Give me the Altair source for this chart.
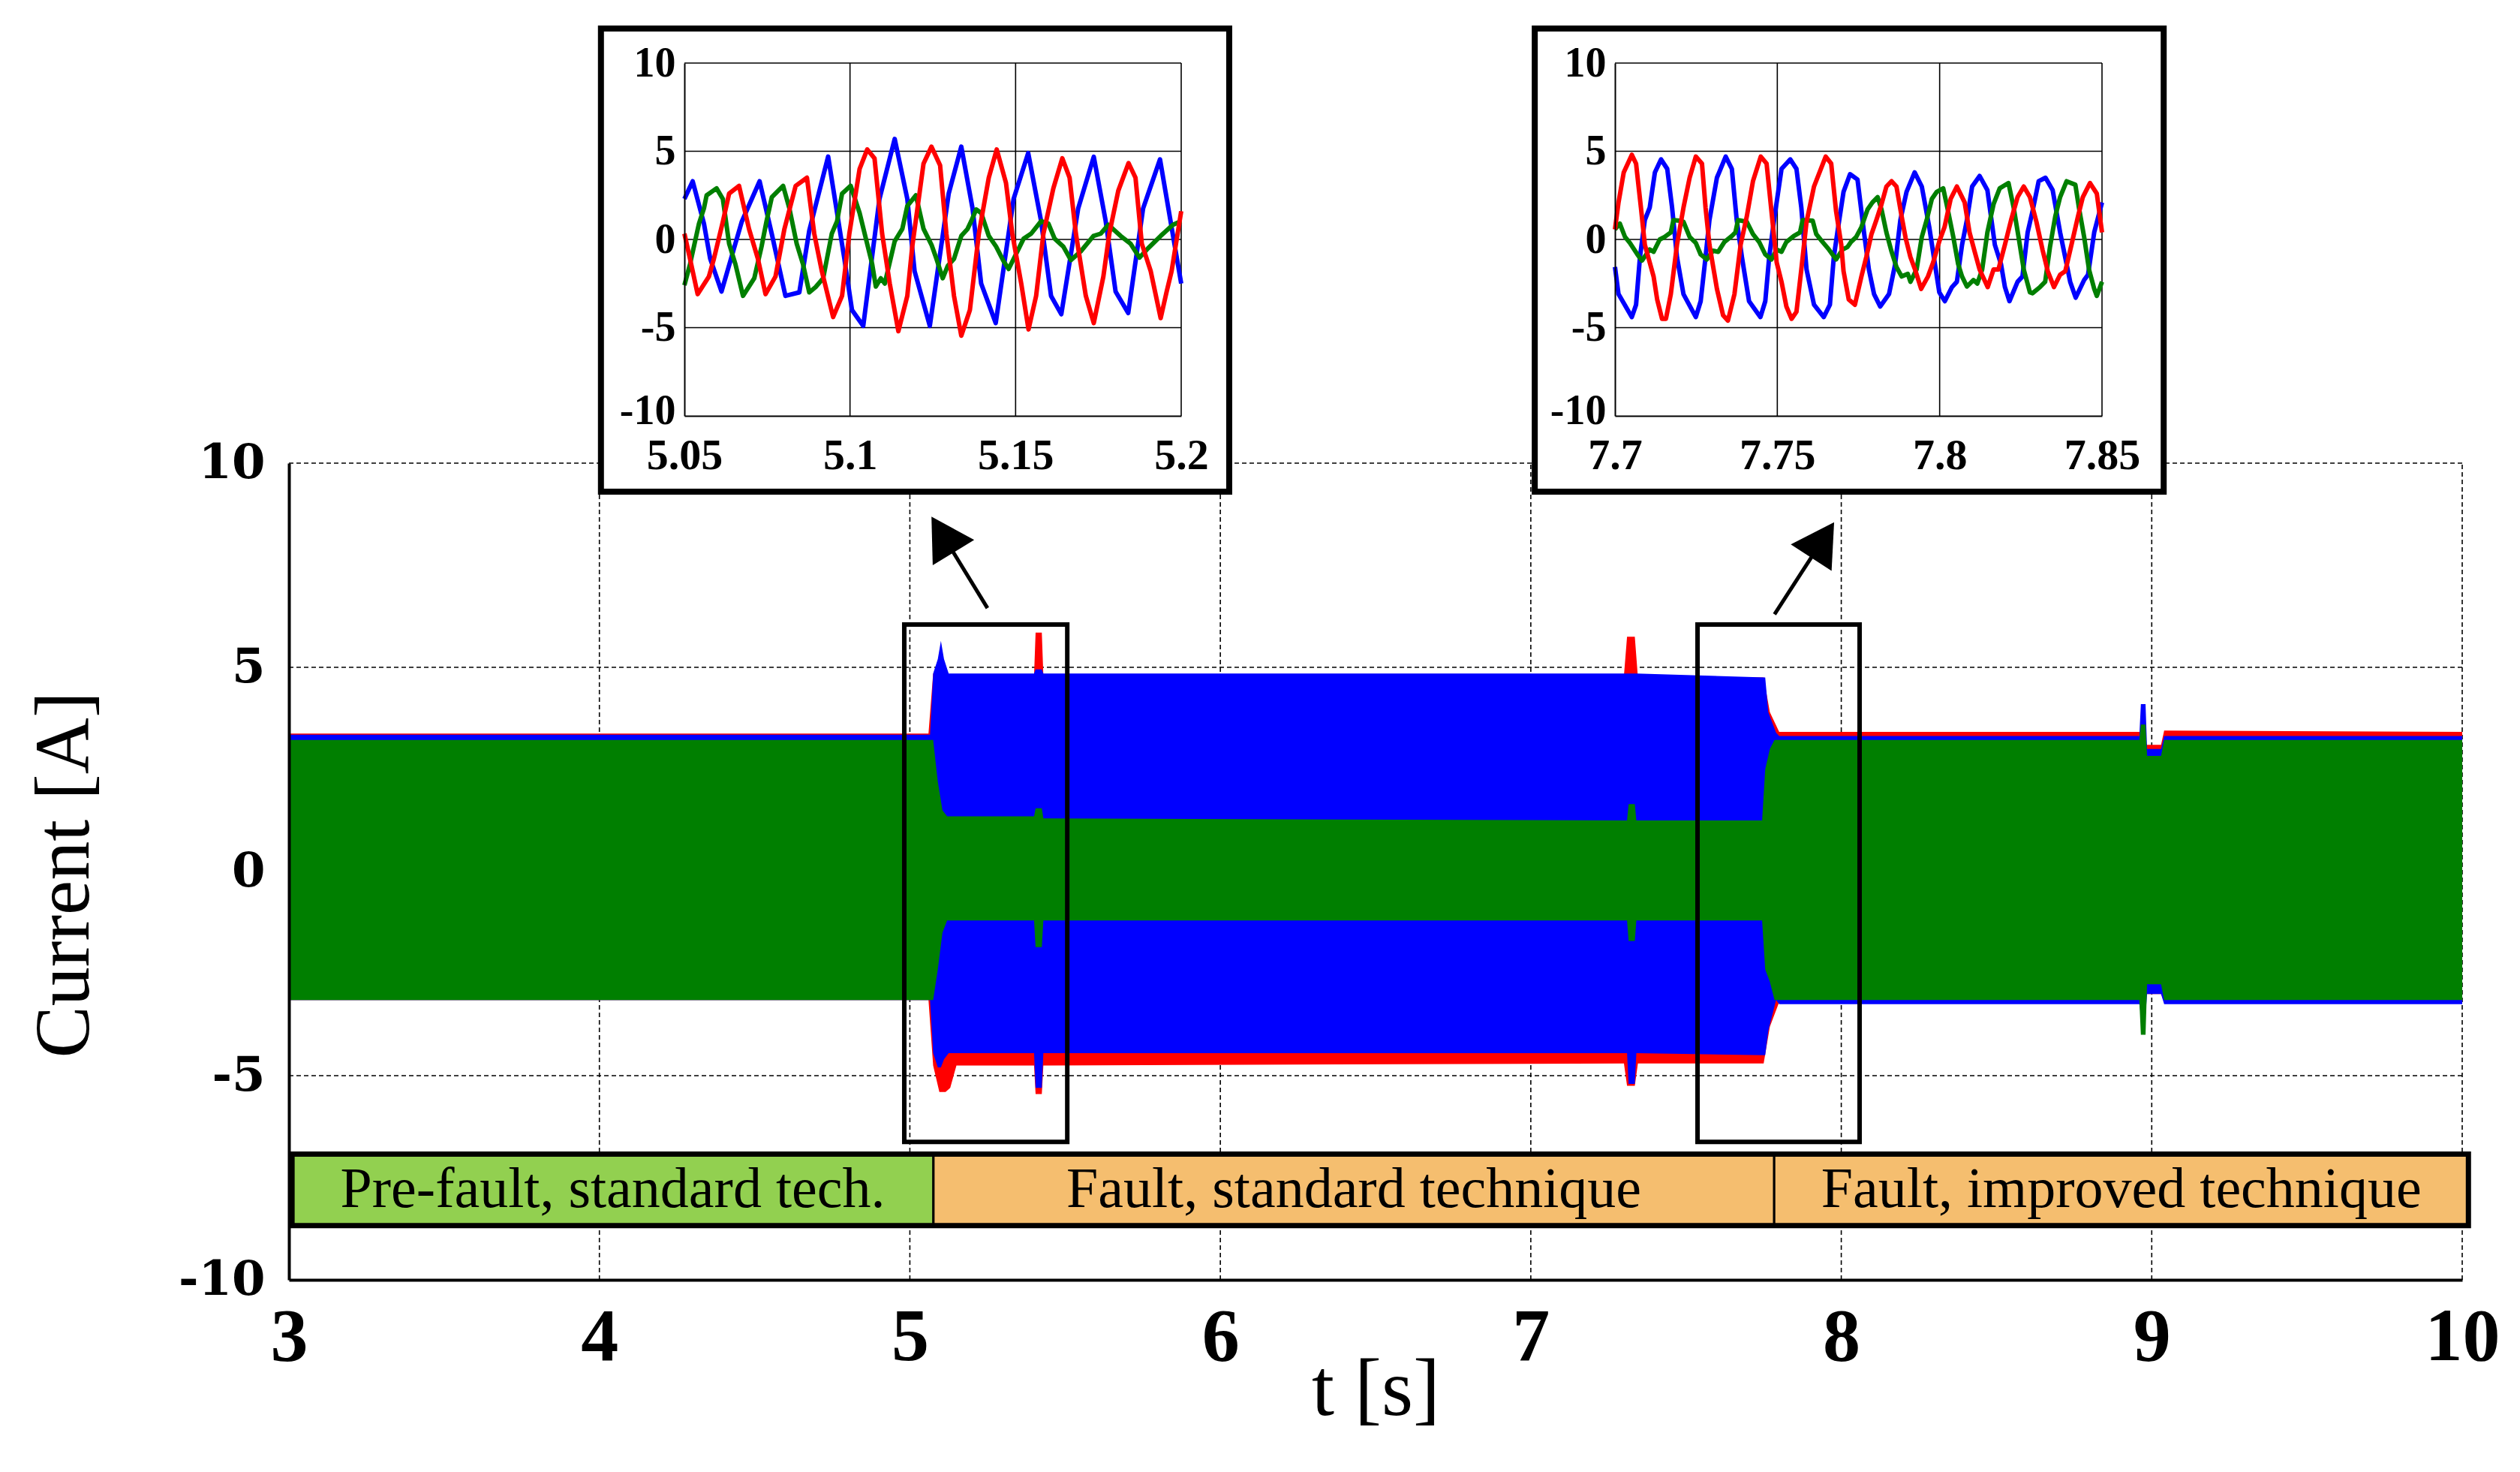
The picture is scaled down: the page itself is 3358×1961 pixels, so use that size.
import altair as alt
import pandas as pd

# ---------------- values ----------------
MAIN_T_TICKS = [3, 4, 5, 6, 7, 8, 9, 10]
MAIN_V_TICKS = [-10, -5, 0, 5, 10]
GRID_T = [4, 5, 6, 7, 8, 9, 10]
GRID_V = [-5, 0, 5, 10]

# envelopes of the three phase currents in the main plot (t, upper, lower)
RED_T = [3.00, 5.060, 5.075, 5.095, 5.115, 5.130, 5.150, 5.400, 5.405, 5.425, 5.430,
         7.300, 7.310, 7.335, 7.345, 7.750, 7.770, 7.800, 8.960, 8.985, 9.030, 9.040, 10.00]
RED_HI = [3.38, 3.38, 4.85, 4.85, 4.85, 4.80, 4.80, 4.80, 5.85, 5.85, 4.80,
          4.80, 5.75, 5.75, 4.75, 4.75, 3.90, 3.42, 3.42, 3.10, 3.10, 3.45, 3.42]
RED_LO = [-3.15, -3.15, -4.75, -5.40, -5.40, -5.30, -4.75, -4.75, -5.45, -5.45, -4.75,
          -4.70, -5.25, -5.25, -4.70, -4.70, -3.80, -3.20, -3.20, -3.00, -3.00, -3.20, -3.20]

BLUE_T = [3.00, 5.065, 5.075, 5.090, 5.100, 5.110, 5.125, 5.400, 5.405, 5.425, 5.430,
          7.310, 7.315, 7.335, 7.340, 7.755, 7.765, 7.790, 7.800, 8.960, 8.965, 8.980,
          8.985, 9.030, 9.040, 10.00]
BLUE_HI = [3.35, 3.35, 4.85, 5.20, 5.65, 5.20, 4.85, 4.85, 4.95, 4.95, 4.85,
           4.85, 4.85, 4.85, 4.85, 4.75, 3.90, 3.40, 3.32, 3.32, 4.10, 4.10,
           3.00, 3.00, 3.32, 3.32]
BLUE_LO = [-3.15, -3.15, -4.45, -4.80, -4.80, -4.60, -4.45, -4.45, -5.30, -5.30, -4.45,
           -4.45, -5.20, -5.20, -4.45, -4.50, -3.90, -3.15, -3.25, -3.25, -3.50, -3.50,
           -3.00, -3.00, -3.25, -3.25]

GREEN_T = [3.00, 5.075, 5.090, 5.105, 5.120, 5.400, 5.405, 5.425, 5.430, 7.310, 7.315,
           7.335, 7.340, 7.745, 7.755, 7.770, 7.785, 8.960, 8.965, 8.980, 8.985, 9.030,
           9.040, 10.00]
GREEN_HI = [3.22, 3.22, 2.20, 1.50, 1.35, 1.35, 1.55, 1.55, 1.30, 1.25, 1.65,
            1.65, 1.25, 1.25, 2.50, 3.00, 3.22, 3.22, 3.60, 3.60, 2.83, 2.83,
            3.22, 3.22]
GREEN_LO = [-3.15, -3.15, -2.40, -1.50, -1.20, -1.20, -1.85, -1.85, -1.20, -1.20, -1.70,
            -1.70, -1.20, -1.20, -2.40, -2.70, -3.15, -3.15, -4.00, -4.00, -2.76, -2.76,
            -3.15, -3.15]

# zoom boxes, arrows and the phase band (main-plot data units)
ZOOM_BOX_T = [(4.982, 5.507), (7.537, 8.059)]
ZOOM_BOX_V = (-6.62, 6.05)
ARROW_TAIL = [(5.250, 6.45), (7.785, 6.30)]
ARROW_HEAD = [(5.105, 8.25), (7.940, 8.12)]
ARROW_ANGLE = [328.5, 33.0]
BAND_LABELS = ["Pre-fault, standard tech.", "Fault, standard technique", "Fault, improved technique"]
BAND_EDGES = [3.01, 5.076, 7.784, 10.02]
BAND_COLORS = ["#92D050", "#F5BE6F", "#F5BE6F"]
BAND_V = (-6.92, -8.67)

# insets
INSET1_T = [5.05, 5.1, 5.15, 5.2]
INSET1_FRAME = (5.0248, 5.2145)
INSET2_T = [7.7, 7.75, 7.8, 7.85]
INSET2_FRAME = (7.6753, 7.869)
INSET_V_TICKS = [-10, -5, 0, 5, 10]
INSET_FRAME_V = (-14.3, 11.96)

B1 = [(5.0500, 2.3), (5.0525, 3.3), (5.0559, 0.9), (5.0578, -1.1), (5.0612, -2.95), (5.0673, 1.0),
      (5.0727, 3.3), (5.0764, 0.3), (5.0805, -3.2), (5.0847, -3.0), (5.0877, 0.5), (5.0934, 4.7),
      (5.0983, -1.1), (5.1006, -4.0), (5.1040, -4.9), (5.1089, 2.3), (5.1135, 5.7), (5.1173, 2.3),
      (5.1195, -1.8), (5.1241, -4.9), (5.1298, 2.6), (5.1336, 5.26), (5.1370, 1.76), (5.1396, -2.5),
      (5.1440, -4.74), (5.1494, 2.3), (5.1538, 4.9), (5.1577, 1.04), (5.1607, -3.2), (5.1638, -4.24),
      (5.1689, 1.76), (5.1736, 4.69), (5.1772, 1.04), (5.1802, -2.96), (5.1840, -4.17), (5.1885, 1.76),
      (5.1936, 4.54), (5.2000, -2.5)]
R1 = [(5.0500, 0.33), (5.0517, -1.1), (5.0540, -3.1), (5.0574, -2.1), (5.0589, -1.1), (5.0616, 1.0),
      (5.0635, 2.6), (5.0665, 3.04), (5.0695, 0.6), (5.0722, -1.1), (5.0745, -3.1), (5.0775, -2.1),
      (5.0802, 0.6), (5.0836, 3.04), (5.0870, 3.5), (5.0892, 0.33), (5.0915, -1.8), (5.0949, -4.4),
      (5.0976, -3.2), (5.0998, 0.33), (5.1029, 4.0), (5.1052, 5.1), (5.1074, 4.6), (5.1097, 0.33),
      (5.1120, -2.5), (5.1146, -5.2), (5.1173, -3.2), (5.1188, -0.4), (5.1222, 4.3), (5.1246, 5.26),
      (5.1272, 4.2), (5.1291, 0.33), (5.1314, -3.2), (5.1336, -5.46), (5.1362, -4.0), (5.1389, 0.33),
      (5.1419, 3.5), (5.1443, 5.1), (5.1471, 3.2), (5.1490, 0.33), (5.1517, -2.5), (5.1539, -5.1),
      (5.1562, -3.2), (5.1584, 0.33), (5.1614, 2.9), (5.1641, 4.6), (5.1663, 3.5), (5.1682, 0.33),
      (5.1712, -3.2), (5.1736, -4.74), (5.1765, -2.1), (5.1783, 0.33), (5.1810, 2.76), (5.1841, 4.33),
      (5.1862, 3.5), (5.1881, -0.24), (5.1908, -1.8), (5.1938, -4.46), (5.1956, -2.96), (5.1971, -1.8),
      (5.2000, 1.6)]
G1 = [(5.0500, -2.6), (5.0517, -1.4), (5.0544, 0.9), (5.0559, 1.76), (5.0567, 2.5), (5.0597, 2.9),
      (5.0616, 2.3), (5.0635, -0.24), (5.0654, -1.4), (5.0677, -3.2), (5.0711, -2.2), (5.0733, -0.4),
      (5.0748, 1.04), (5.0764, 2.4), (5.0798, 3.04), (5.0817, 1.76), (5.0839, -0.24), (5.0858, -1.4),
      (5.0877, -3.0), (5.0896, -2.7), (5.0919, -2.2), (5.0945, 0.33), (5.0961, 1.04), (5.0976, 2.6),
      (5.1002, 3.04), (5.1029, 1.5), (5.1048, 0.04), (5.1067, -1.4), (5.1078, -2.67), (5.1093, -2.2),
      (5.1105, -2.5), (5.1135, -0.1), (5.1158, 0.6), (5.1173, 1.9), (5.1199, 2.5), (5.1222, 0.6),
      (5.1246, -0.3), (5.1261, -1.1), (5.1280, -2.2), (5.1295, -1.5), (5.1314, -1.1), (5.1336, 0.2),
      (5.1355, 0.6), (5.1366, 1.04), (5.1381, 1.7), (5.1396, 1.5), (5.1419, 0.2), (5.1441, -0.4),
      (5.1464, -1.24), (5.1479, -1.67), (5.1502, -0.8), (5.1524, 0.04), (5.1547, 0.33), (5.1577, 1.04),
      (5.1599, 0.9), (5.1618, 0.04), (5.1644, -0.4), (5.1667, -1.17), (5.1697, -0.67), (5.1735, 0.2),
      (5.1757, 0.33), (5.1780, 0.83), (5.1817, 0.2), (5.1847, -0.24), (5.1874, -1.03), (5.1900, -0.5),
      (5.1938, 0.2), (5.1975, 0.83), (5.2000, 1.04)]

B2 = [(7.7000, -1.56), (7.7011, -3.1), (7.7052, -4.4), (7.7065, -3.7), (7.7077, -1.0), (7.7092, 1.1),
      (7.7107, 1.8), (7.7123, 3.8), (7.7142, 4.54), (7.7161, 4.0), (7.7176, 1.8), (7.7191, -1.0),
      (7.7211, -3.1), (7.7249, -4.4), (7.7264, -3.5), (7.7279, -1.0), (7.7291, 1.1), (7.7314, 3.5),
      (7.7341, 4.7), (7.7360, 4.0), (7.7375, 1.1), (7.7391, -1.0), (7.7413, -3.5), (7.7448, -4.4),
      (7.7463, -3.5), (7.7475, -1.0), (7.7490, 1.1), (7.7513, 4.0), (7.7540, 4.54), (7.7559, 4.0),
      (7.7574, 1.8), (7.7590, -1.7), (7.7613, -3.7), (7.7643, -4.4), (7.7662, -3.7), (7.7674, -1.0),
      (7.7685, 0.4), (7.7704, 2.7), (7.7724, 3.7), (7.7747, 3.4), (7.7767, 0.4), (7.7782, -1.7),
      (7.7798, -3.1), (7.7817, -3.8), (7.7844, -3.1), (7.7863, -1.4), (7.7879, 1.1), (7.7898, 2.7),
      (7.7923, 3.8), (7.7945, 3.0), (7.7968, 0.7), (7.7988, -1.7), (7.7999, -3.0), (7.8016, -3.5),
      (7.8038, -2.7), (7.8053, -2.4), (7.8069, -0.3), (7.8084, 1.1), (7.8100, 3.0), (7.8123, 3.6),
      (7.8147, 2.8), (7.8170, -0.3), (7.8189, -1.4), (7.8201, -2.7), (7.8215, -3.5), (7.8240, -2.4),
      (7.8255, -2.1), (7.8271, 0.4), (7.8286, 1.6), (7.8305, 3.3), (7.8326, 3.5), (7.8348, 2.8),
      (7.8371, 0.4), (7.8391, -1.4), (7.8402, -2.4), (7.8419, -3.3), (7.8445, -2.3), (7.8457, -2.0),
      (7.8476, 0.4), (7.8500, 2.1)]
R2 = [(7.7000, 0.57), (7.7011, 2.1), (7.7027, 3.8), (7.7052, 4.8), (7.7065, 4.3), (7.7080, 1.8),
      (7.7092, -0.3), (7.7119, -2.1), (7.7130, -3.4), (7.7145, -4.5), (7.7157, -4.5), (7.7172, -3.1),
      (7.7191, -0.3), (7.7211, 1.8), (7.7230, 3.5), (7.7249, 4.7), (7.7268, 4.3), (7.7279, 1.8),
      (7.7291, -0.3), (7.7314, -2.8), (7.7333, -4.3), (7.7348, -4.6), (7.7368, -3.1), (7.7387, -0.3),
      (7.7406, 1.3), (7.7425, 3.3), (7.7449, 4.7), (7.7467, 4.3), (7.7482, 1.6), (7.7498, -1.3),
      (7.7513, -2.4), (7.7528, -3.8), (7.7544, -4.5), (7.7559, -4.1), (7.7574, -1.7), (7.7590, 1.0),
      (7.7613, 3.0), (7.7649, 4.7), (7.7666, 4.3), (7.7681, 1.6), (7.7697, -0.3), (7.7704, -1.8),
      (7.7720, -3.4), (7.7739, -3.7), (7.7759, -2.1), (7.7774, -1.0), (7.7790, 0.3), (7.7805, 1.1),
      (7.7821, 2.0), (7.7836, 3.0), (7.7852, 3.3), (7.7867, 3.0), (7.7883, 1.3), (7.7895, 0.1),
      (7.7910, -1.0), (7.7926, -1.8), (7.7943, -2.8), (7.7964, -2.1), (7.7980, -1.3), (7.7999, -0.1),
      (7.8015, 0.7), (7.8034, 2.3), (7.8053, 3.0), (7.8077, 2.1), (7.8092, 0.4), (7.8108, -0.7),
      (7.8123, -1.7), (7.8148, -2.7), (7.8166, -1.7), (7.8181, -1.7), (7.8201, -0.3), (7.8220, 1.1),
      (7.8240, 2.4), (7.8259, 3.0), (7.8278, 2.4), (7.8298, 1.0), (7.8317, -0.6), (7.8333, -1.8),
      (7.8352, -2.7), (7.8371, -2.0), (7.8387, -1.8), (7.8406, -0.3), (7.8426, 1.3), (7.8441, 2.4),
      (7.8463, 3.2), (7.8484, 2.6), (7.8500, 0.4)]
G2 = [(7.7000, 0.57), (7.7015, 0.9), (7.7031, 0.14), (7.7046, -0.2), (7.7069, -0.85), (7.7083, -1.2),
      (7.7107, -0.57), (7.7119, -0.7), (7.7138, 0.0), (7.7153, 0.14), (7.7172, 0.4), (7.7180, 1.1),
      (7.7199, 1.06), (7.7211, 1.0), (7.7230, 0.14), (7.7249, -0.2), (7.7264, -0.85), (7.7283, -1.13),
      (7.7302, -0.64), (7.7318, -0.7), (7.7337, -0.14), (7.7360, 0.2), (7.7371, 0.4), (7.7379, 1.1),
      (7.7406, 1.0), (7.7425, 0.3), (7.7444, -0.14), (7.7463, -0.85), (7.7482, -1.13), (7.7498, -0.57),
      (7.7513, -0.7), (7.7528, -0.14), (7.7551, 0.2), (7.7570, 0.4), (7.7578, 1.1), (7.7609, 1.06),
      (7.7620, 0.3), (7.7636, -0.07), (7.7659, -0.57), (7.7681, -1.13), (7.7701, -0.57), (7.7716, -0.43),
      (7.7727, -0.14), (7.7743, 0.14), (7.7759, 0.7), (7.7778, 1.7), (7.7793, 2.1), (7.7809, 2.4),
      (7.7821, 1.7), (7.7836, 0.4), (7.7852, -0.7), (7.7867, -1.56), (7.7883, -2.1), (7.7902, -1.95),
      (7.7910, -2.4), (7.7929, -1.7), (7.7945, 0.14), (7.7960, 1.1), (7.7976, 2.3), (7.7991, 2.7),
      (7.8011, 2.9), (7.8026, 1.6), (7.8042, 0.14), (7.8057, -1.4), (7.8069, -2.1), (7.8084, -2.67),
      (7.8104, -2.3), (7.8116, -2.5), (7.8131, -1.7), (7.8147, 0.4), (7.8166, 2.0), (7.8185, 2.9),
      (7.8212, 3.2), (7.8228, 1.8), (7.8243, 0.14), (7.8259, -1.7), (7.8278, -3.0), (7.8286, -3.05),
      (7.8309, -2.7), (7.8325, -2.4), (7.8340, -0.4), (7.8356, 1.3), (7.8371, 2.4), (7.8391, 3.3),
      (7.8418, 3.1), (7.8429, 1.8), (7.8445, 0.14), (7.8460, -1.7), (7.8476, -2.8), (7.8484, -3.2),
      (7.8500, -2.4)]

# ---------------- layout (pixels inside the chart) ----------------
W, H = 3342, 1945
SERIF = "Liberation Serif"
RED, BLUE, GREEN = "#FF0000", "#0000FF", "#007F00"

XS_MAIN = alt.Scale(domain=[3, 10], range=[377, 3273], nice=False, zero=False)
YS_MAIN = alt.Scale(domain=[-10, 10], range=[1697, 609], nice=False, zero=False)
XS_I1 = alt.Scale(domain=[5.05, 5.2], range=[904, 1566], nice=False, zero=False)
XS_I2 = alt.Scale(domain=[7.7, 7.85], range=[2144, 2793], nice=False, zero=False)
YS_I = alt.Scale(domain=[-10, 10], range=[546, 76], nice=False, zero=False)

AX_MAIN_X = alt.Axis(orient="bottom", offset=1697 - H, values=MAIN_T_TICKS, grid=False,
                     ticks=False, tickSize=0, domainColor="black", domainWidth=4,
                     labelFont=SERIF, labelFontWeight="bold", labelFontSize=100,
                     labelColor="black", labelPadding=27, labelFlush=False, labelOverlap=False,
                     title="t [s]", titleFont=SERIF, titleFontWeight="normal", titleFontSize=108,
                     titleColor="black", titleY=147, titleBaseline="middle", zindex=1)
AX_MAIN_Y = alt.Axis(orient="left", offset=-377, values=MAIN_V_TICKS, grid=False,
                     ticks=False, tickSize=0, domainColor="black", domainWidth=4,
                     labelFont="DejaVu Serif", labelFontWeight="bold", labelFontSize=64,
                     labelColor="black", labelPadding=32, labelFlush=False, labelOverlap=False,
                     labelExpr="toString(datum.value)",
                     title="Current [A]", titleFont=SERIF, titleFontWeight="normal",
                     titleFontSize=104, titleColor="black", titleX=-299, titleY=1157,
                     titleBaseline="middle", titleAlign="center", zindex=1)


def inset_axes(x_ticks, x_left):
    ax = alt.Axis(orient="bottom", offset=546 - H, values=x_ticks, grid=False, ticks=False,
                  tickSize=0, domainColor="black", domainWidth=2, labelFont=SERIF,
                  labelFontWeight="bold", labelFontSize=58, labelColor="black",
                  labelPadding=24, labelFlush=False, labelOverlap=False,
                  labelExpr="toString(datum.value)", title="", zindex=1)
    ay = alt.Axis(orient="left", offset=-x_left, values=INSET_V_TICKS, grid=False, ticks=False,
                  tickSize=0, domainColor="black", domainWidth=2, labelFont=SERIF,
                  labelFontWeight="bold", labelFontSize=56, labelColor="black",
                  labelPadding=12, labelFlush=False, labelOverlap=False,
                  labelOffset={"condition": {"test": "datum.value == -10", "value": -7}, "value": 0},
                  labelExpr="toString(datum.value)", title="", zindex=1)
    return ax, ay


def mx(f):
    return alt.X(f"{f}:Q", scale=XS_MAIN, axis=AX_MAIN_X)


def my(f):
    return alt.Y(f"{f}:Q", scale=YS_MAIN, axis=AX_MAIN_Y)


# ---------------- main plot ----------------
df_gv = pd.DataFrame({"t": GRID_T, "v0": MAIN_V_TICKS[0], "v1": MAIN_V_TICKS[-1]})
df_gh = pd.DataFrame({"v": GRID_V, "t0": MAIN_T_TICKS[0], "t1": MAIN_T_TICKS[-1]})
grid_v = alt.Chart(df_gv).mark_rule(color="black", strokeWidth=1.6, strokeDash=[6, 4]).encode(
    x=mx("t"), y=my("v0"), y2=alt.Y2("v1"))
grid_h = alt.Chart(df_gh).mark_rule(color="black", strokeWidth=1.6, strokeDash=[6, 4]).encode(
    y=my("v"), x=mx("t0"), x2=alt.X2("t1"))


def env(ts, hi, lo, color):
    df = pd.DataFrame({"t": ts, "hi": hi, "lo": lo})
    return alt.Chart(df).mark_area(color=color, opacity=1).encode(
        x=mx("t"), y=my("hi"), y2=alt.Y2("lo"))


area_r = env(RED_T, RED_HI, RED_LO, RED)
area_b = env(BLUE_T, BLUE_HI, BLUE_LO, BLUE)
area_g = env(GREEN_T, GREEN_HI, GREEN_LO, GREEN)

df_box = pd.DataFrame({"t0": [b[0] for b in ZOOM_BOX_T], "t1": [b[1] for b in ZOOM_BOX_T],
                       "v0": ZOOM_BOX_V[0], "v1": ZOOM_BOX_V[1]})
boxes = alt.Chart(df_box).mark_rect(fillOpacity=0, stroke="black", strokeWidth=6).encode(
    x=mx("t0"), x2=alt.X2("t1"), y=my("v0"), y2=alt.Y2("v1"))

df_arrow = pd.DataFrame({"t0": [a[0] for a in ARROW_TAIL], "v0": [a[1] for a in ARROW_TAIL],
                         "t1": [h[0] for h in ARROW_HEAD], "v1": [h[1] for h in ARROW_HEAD]})
arrows = alt.Chart(df_arrow).mark_rule(color="black", strokeWidth=5).encode(
    x=mx("t0"), y=my("v0"), x2=alt.X2("t1"), y2=alt.Y2("v1"))
heads = []
for i in range(len(ARROW_HEAD)):
    dfh = pd.DataFrame({"t": [ARROW_HEAD[i][0]], "v": [ARROW_HEAD[i][1]]})
    heads.append(alt.Chart(dfh).mark_point(shape="triangle-up", filled=True, size=4200,
                                            angle=ARROW_ANGLE[i], color="black", opacity=1,
                                            strokeWidth=0).encode(x=mx("t"), y=my("v")))

df_band = pd.DataFrame({"label": BAND_LABELS, "t0": BAND_EDGES[:-1], "t1": BAND_EDGES[1:],
                        "vt": BAND_V[0], "vb": BAND_V[1]})
df_band["mid"] = (df_band["t0"] + df_band["t1"]) / 2
df_band["vm"] = (df_band["vt"] + df_band["vb"]) / 2
band = alt.Chart(df_band).mark_rect(stroke="black", strokeWidth=3, opacity=1).encode(
    x=mx("t0"), x2=alt.X2("t1"), y=my("vt"), y2=alt.Y2("vb"),
    color=alt.Color("label:N", scale=alt.Scale(domain=BAND_LABELS, range=BAND_COLORS), legend=None))
df_band_all = pd.DataFrame({"t0": [BAND_EDGES[0]], "t1": [BAND_EDGES[-1]],
                            "vt": [BAND_V[0]], "vb": [BAND_V[1]]})
band_border = alt.Chart(df_band_all).mark_rect(fillOpacity=0, stroke="black", strokeWidth=7).encode(
    x=mx("t0"), x2=alt.X2("t1"), y=my("vt"), y2=alt.Y2("vb"))
band_text = alt.Chart(df_band).mark_text(font=SERIF, fontSize=76, color="black",
                                         baseline="middle", align="center").encode(
    x=mx("mid"), y=my("vm"), text="label:N")

main = alt.layer(grid_v, grid_h, area_r, area_b, area_g, boxes, arrows, *heads,
                 band, band_border, band_text)


# ---------------- insets ----------------
def inset(xs, x_ticks, x_left, frame_t, series):
    ax, ay = inset_axes(x_ticks, x_left)

    def ex(f):
        return alt.X(f"{f}:Q", scale=xs, axis=ax)

    def ey(f):
        return alt.Y(f"{f}:Q", scale=YS_I, axis=ay)

    df_fr = pd.DataFrame({"t0": [frame_t[0]], "t1": [frame_t[1]],
                          "v0": [INSET_FRAME_V[0]], "v1": [INSET_FRAME_V[1]]})
    frame = alt.Chart(df_fr).mark_rect(fill="white", stroke="black", strokeWidth=8).encode(
        x=ex("t0"), x2=alt.X2("t1"), y=ey("v0"), y2=alt.Y2("v1"))
    dgv = pd.DataFrame({"t": x_ticks[1:], "v0": INSET_V_TICKS[0], "v1": INSET_V_TICKS[-1]})
    dgh = pd.DataFrame({"v": INSET_V_TICKS[1:], "t0": x_ticks[0], "t1": x_ticks[-1]})
    gv = alt.Chart(dgv).mark_rule(color="black", strokeWidth=1.6).encode(
        x=ex("t"), y=ey("v0"), y2=alt.Y2("v1"))
    gh = alt.Chart(dgh).mark_rule(color="black", strokeWidth=1.6).encode(
        y=ey("v"), x=ex("t0"), x2=alt.X2("t1"))
    lines = []
    for pts, col in series:
        d = pd.DataFrame({"t": [p[0] for p in pts], "v": [p[1] for p in pts]})
        lines.append(alt.Chart(d).mark_line(color=col, strokeWidth=6, strokeJoin="round").encode(
            x=ex("t"), y=ey("v")))
    return alt.layer(frame, gv, gh, *lines)


ins1 = inset(XS_I1, INSET1_T, 904, INSET1_FRAME, [(B1, BLUE), (G1, GREEN), (R1, RED)])
ins2 = inset(XS_I2, INSET2_T, 2144, INSET2_FRAME, [(B2, BLUE), (G2, GREEN), (R2, RED)])

chart = alt.layer(main, ins1, ins2).resolve_scale(
    x="independent", y="independent").resolve_axis(
    x="independent", y="independent").properties(
    width=W, height=H, padding=0, autosize=alt.AutoSizeParams(type="none"),
    background="white").configure_view(stroke=None)

chart.save("out.html", embed_options={"renderer": "svg", "actions": False})
